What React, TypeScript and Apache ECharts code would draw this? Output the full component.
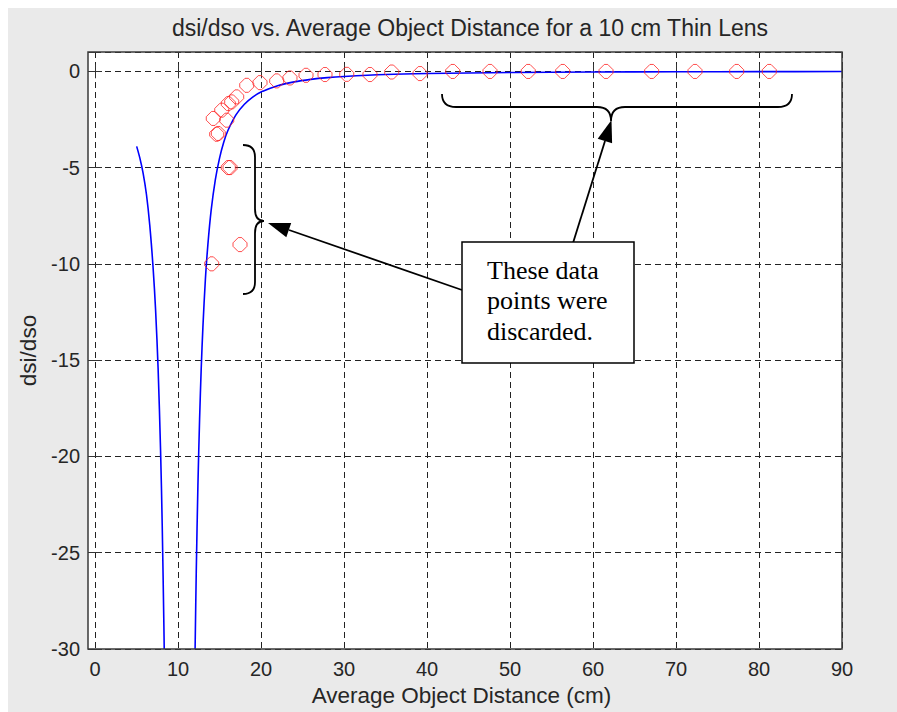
import React, { useEffect, useRef } from "react";
import * as echarts from "echarts";

// ---- data ----
const xTicks = [0, 10, 20, 30, 40, 50, 60, 70, 80, 90];
const yTicks = [-30, -25, -20, -15, -10, -5, 0];

// fitted curve (blue), left branch
const fitLeftX = [5.02, 5.4, 5.8, 6.2, 6.6, 7.0, 7.3, 7.6, 7.9, 8.1, 8.3, 8.34];
const fitLeftY = [-3.9, -4.5, -5.3, -6.4, -8.0, -10.2, -12.4, -15.4, -19.7, -23.6, -28.8, -30];

// fitted curve (blue), right branch
const fitRightX = [12.06, 12.2, 12.4, 12.6, 12.8, 13.0, 13.3, 13.6, 14.0, 14.5, 15.0, 15.5, 16.0, 17.0, 18.0, 19.0, 20.0, 22.0, 24.0, 26.0, 28.0, 30.0, 35.0, 40.0, 50.0, 60.0, 70.0, 80.0, 90.0];
const fitRightY = [-30, -26.0, -21.5, -18.1, -15.4, -13.3, -10.8, -9.0, -7.2, -5.63, -4.52, -3.7, -3.09, -2.25, -1.71, -1.34, -1.08, -0.75, -0.55, -0.42, -0.33, -0.27, -0.17, -0.12, -0.066, -0.042, -0.029, -0.021, -0.016];

// measured points that were kept
const keptX = [14.25, 14.66, 14.86, 15.27, 15.87, 16.06, 16.47, 17.07, 18.28, 19.88, 21.89, 23.49, 25.42, 27.71, 30.33, 33.13, 35.75, 39.16, 43.1, 47.59, 52.2, 56.35, 61.57, 67.07, 72.29, 77.31, 81.24];
const keptY = [-2.45, -3.27, -3.23, -2.02, -2.54, -1.68, -1.59, -1.33, -0.73, -0.59, -0.5, -0.35, -0.21, -0.17, -0.16, -0.17, -0.04, -0.12, -0.01, -0.01, -0.01, -0.01, -0.01, -0.01, -0.01, -0.01, -0.01];

// measured points that were discarded
const discardedX = [14.06, 16.06, 16.27, 17.47];
const discardedY = [-10.0, -5.0, -5.0, -9.0];

const titleText = "dsi/dso vs. Average Object Distance for a 10 cm Thin Lens";
const xName = "Average Object Distance (cm)";
const yName = "dsi/dso";
const noteLines = ["These data", "points were", "discarded."];

const SANS = "'Liberation Sans', Arial, sans-serif";
const SERIF = "'Liberation Serif', 'Times New Roman', serif";

const OCT = "path://M4.5,0L7.5,0L12,4.5L12,7.5L7.5,12L4.5,12L0,7.5L0,4.5Z";

let registered = false;
function registerShapes() {
  if (registered) return;
  registered = true;
  echarts.graphic.registerShape(
    "braceLeft",
    echarts.graphic.extendPath(
      "M235,137 Q247,137 247,149 L247,201 Q247,213 256,213 Q247,213 247,225 L247,274 Q247,286 235,286",
      {}
    )
  );
  echarts.graphic.registerShape(
    "braceTop",
    echarts.graphic.extendPath(
      "M434,86 Q434,99 448,99 L589,99 Q603,99 603,113 Q603,99 617,99 L770,99 Q784,99 784,86",
      {}
    )
  );
}

const zip = (a: number[], b: number[]) => a.map((v, i) => [v, b[i]]);

export default function App() {
  const ref = useRef<HTMLDivElement>(null);
  useEffect(() => {
    if (!ref.current) return;
    registerShapes();
    const chart = echarts.init(ref.current, null, { renderer: "svg" });
    const gridLine = { show: true, lineStyle: { color: "#222", type: [6, 4] as any, width: 1 } };
    const tickStyle = { show: true, inside: true, length: 7, lineStyle: { color: "#333", width: 1 } };
    const labelStyle = { color: "#262626", fontFamily: SANS, fontSize: 20 };
    const curveStyle = { color: "#0000FF", width: 1.6 };
    const markerStyle = { color: "rgba(0,0,0,0)", borderColor: "#FF2020", borderWidth: 1 };
    chart.setOption({
      animation: false,
      backgroundColor: "#EAEAEA",
      title: {
        text: titleText,
        left: 457,
        top: 3,
        textAlign: "center",
        textStyle: { color: "#262626", fontFamily: SANS, fontSize: 23, fontWeight: "normal" },
      },
      grid: { left: 87, top: 44, right: 55, bottom: 63, containLabel: false, outerBoundsMode: "none" },
      xAxis: [
        {
          type: "value",
          min: 0,
          max: 90,
          interval: 10,
          position: "bottom",
          axisLine: { show: false },
          axisTick: tickStyle,
          axisLabel: { ...labelStyle, margin: 10, formatter: (v: number) => (xTicks.includes(v) ? String(v) : "") },
          splitLine: gridLine,
          name: xName,
          nameLocation: "middle",
          nameGap: 31,
          nameTextStyle: { color: "#262626", fontFamily: SANS, fontSize: 22.5, padding: [0, 14, 0, 0] },
        },
        {
          type: "value",
          min: 0,
          max: 90,
          interval: 10,
          position: "top",
          axisLine: { show: false },
          axisTick: tickStyle,
          axisLabel: { show: false },
          splitLine: { show: false },
        },
      ],
      yAxis: [
        {
          type: "value",
          min: -30,
          max: 1,
          interval: 5,
          position: "left",
          offset: 7,
          axisLine: { show: false },
          axisTick: tickStyle,
          axisLabel: { ...labelStyle, margin: 8, showMaxLabel: false, formatter: (v: number) => (yTicks.includes(v) ? String(v) : "") },
          splitLine: gridLine,
          name: yName,
          nameLocation: "middle",
          nameGap: 30,
          nameTextStyle: { color: "#262626", fontFamily: SANS, fontSize: 22.5 },
        },
        {
          type: "value",
          min: -30,
          max: 1,
          interval: 5,
          position: "right",
          axisLine: { show: false },
          axisTick: tickStyle,
          axisLabel: { show: false },
          splitLine: { show: false },
        },
      ],
      series: [
        {
          type: "line",
          name: "fit",
          data: zip(fitLeftX, fitLeftY),
          showSymbol: false,
          symbol: "none",
          smooth: 0.3,
          lineStyle: curveStyle,
          z: 3,
        },
        {
          type: "line",
          name: "fit",
          data: zip(fitRightX, fitRightY),
          showSymbol: false,
          symbol: "none",
          smooth: 0.3,
          lineStyle: curveStyle,
          z: 3,
        },
        {
          type: "scatter",
          name: "kept",
          data: zip(keptX, keptY),
          symbol: OCT,
          symbolSize: 14,
          itemStyle: markerStyle,
          z: 4,
        },
        {
          type: "scatter",
          name: "discarded",
          data: zip(discardedX, discardedY),
          symbol: OCT,
          symbolSize: 14,
          itemStyle: markerStyle,
          z: 4,
        },
      ],
      graphic: [
        { type: "rect", z: -10, shape: { x: 80, y: 44, width: 754, height: 597 }, style: { fill: "#FFFFFF" }, silent: true },
        { type: "rect", z: 50, shape: { x: 80, y: 44, width: 754, height: 597 }, style: { fill: "none", stroke: "#3A3A3A", lineWidth: 1.5 }, silent: true },
        { type: "braceLeft", z: 60, x: 0, y: 0, style: { fill: "none", stroke: "#000", lineWidth: 1.8 } },
        { type: "braceTop", z: 60, x: 0, y: 0, style: { fill: "none", stroke: "#000", lineWidth: 1.8 } },
        { type: "line", z: 60, shape: { x1: 454, y1: 282, x2: 281, y2: 222 }, style: { stroke: "#000", lineWidth: 1.8 } },
        { type: "polygon", z: 60, shape: { points: [[260, 215], [283.2, 215.1], [278.3, 229.3]] }, style: { fill: "#000" } },
        { type: "line", z: 60, shape: { x1: 565, y1: 235, x2: 597, y2: 133 }, style: { stroke: "#000", lineWidth: 1.8 } },
        { type: "polygon", z: 60, shape: { points: [[603.5, 112], [604.1, 135.2], [589.7, 130.8]] }, style: { fill: "#000" } },
        { type: "rect", z: 70, shape: { x: 454, y: 234, width: 172, height: 121 }, style: { fill: "#FFFFFF", stroke: "#000", lineWidth: 1.5 } },
        ...noteLines.map((t, i) => ({
          type: "text",
          z: 71,
          x: 479,
          y: [262, 292, 323][i],
          style: { text: t, fill: "#000", font: `26px ${SERIF}`, textAlign: "left", textVerticalAlign: "middle" },
        })),
      ],
    });
    return () => chart.dispose();
  }, []);
  return <div ref={ref} style={{ position: "fixed", left: 8, top: 8, width: 889, height: 704 }} />;
}
